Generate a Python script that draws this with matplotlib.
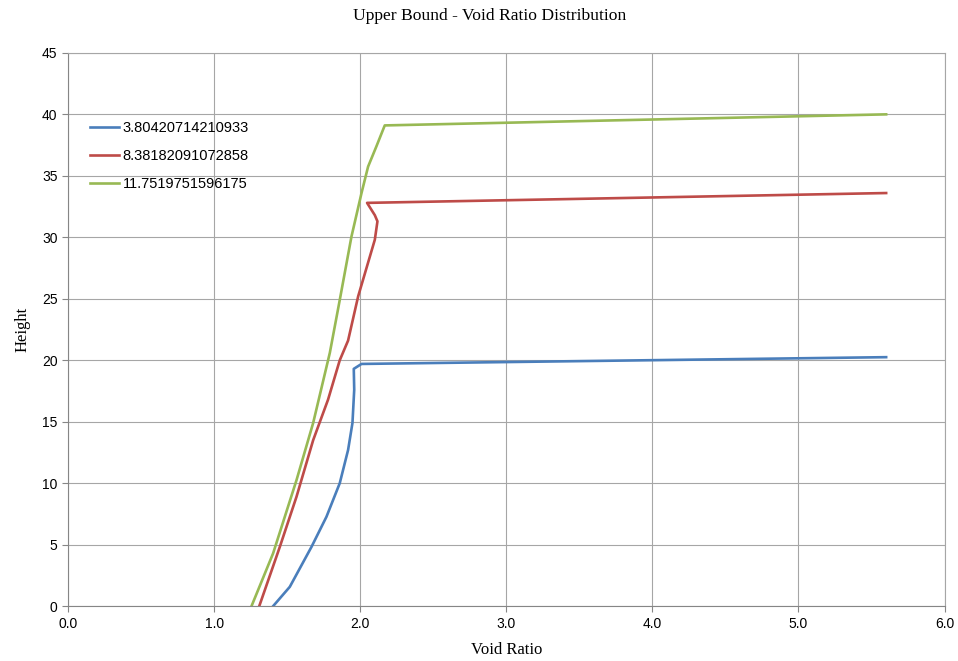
import numpy as np
import matplotlib.pyplot as plt

# void ratio / height profiles for each load case
labels = ["3.80420714210933", "8.38182091072858", "11.7519751596175"]

e_1 = [1.404, 1.518, 1.667, 1.769, 1.860, 1.917, 1.947, 1.959, 1.956, 2.009, 5.60]
h_1 = [0.0, 1.57, 4.83, 7.27, 10.0, 12.7, 14.9, 17.6, 19.3, 19.7, 20.25]

e_2 = [1.309, 1.450, 1.564, 1.678, 1.780, 1.860, 1.917, 1.986, 2.100, 2.118, 2.100, 2.047, 5.60]
h_2 = [0.0, 4.83, 8.9, 13.5, 16.8, 20.0, 21.6, 25.2, 29.8, 31.3, 31.8, 32.8, 33.6]

e_3 = [1.256, 1.404, 1.564, 1.678, 1.792, 1.860, 1.940, 2.009, 2.054, 2.111, 2.168, 5.60]
h_3 = [0.0, 4.3, 10.25, 14.9, 20.6, 24.9, 30.05, 33.6, 35.75, 37.4, 39.1, 40.0]

colors = ['#4a7ebb', '#be4b48', '#98b954']

fig = plt.figure(figsize=(9.58, 6.61), dpi=100)
ax = fig.add_axes([0.071, 0.083, 0.915, 0.837])

for e, h, c, lb in zip([e_1, e_2, e_3], [h_1, h_2, h_3], colors, labels):
    ax.plot(e, h, color=c, lw=1.9, label=lb)

ax.set_xlim(0, 6)
ax.set_ylim(0, 45)
ax.set_xticks(np.arange(0, 6.1, 1.0))
ax.set_xticklabels(["%.1f" % v for v in np.arange(0, 6.1, 1.0)])
ax.set_yticks(np.arange(0, 46, 5))
ax.grid(True, color='#a6a6a6', lw=0.8)
for s in ax.spines.values():
    s.set_color('#a6a6a6')
    s.set_linewidth(0.8)
ax.spines['left'].set_color('#868686')
ax.spines['bottom'].set_color('#868686')
ax.tick_params(direction='out', length=4, color='#868686', labelsize=10,
               labelfontfamily='Liberation Sans')

fig.text(490 / 958, 1 - 16 / 661, "Upper Bound - Void Ratio Distribution",
         family='Liberation Serif', fontsize=12.6, ha='center', va='center')
ax.set_xlabel("Void Ratio", family='Liberation Serif', fontsize=12, labelpad=8)
ax.set_ylabel("Height", family='Liberation Serif', fontsize=12, labelpad=8)

ax.legend(loc='upper left', bbox_to_anchor=(0.01, 0.90), frameon=False,
          handlelength=2.0, handletextpad=0.25, labelspacing=0.95,
          prop={'family': 'Liberation Sans', 'size': 10.5})

fig.savefig("out.png", dpi=100)
